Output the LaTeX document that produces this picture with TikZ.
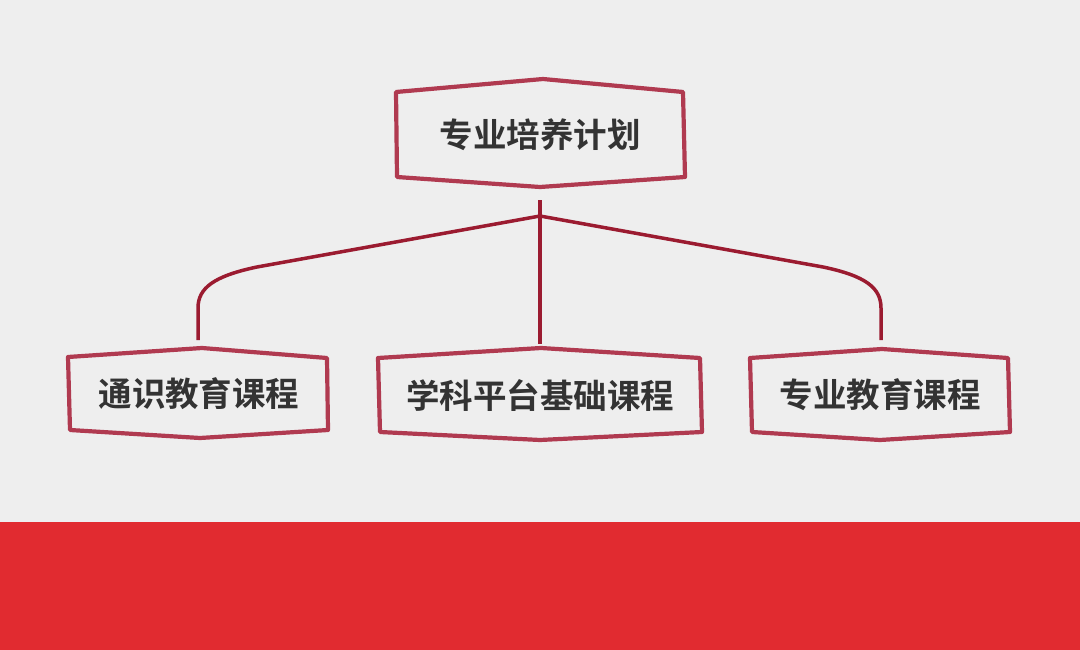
\documentclass[tikz,border=0pt]{standalone}
\usepackage{fontspec}
\newfontfamily\cjk{Noto Sans CJK SC}[BoldFont={Noto Sans CJK SC Bold}]
\usetikzlibrary{calc}
\definecolor{bgcol}{HTML}{EEEEEE}
\definecolor{band}{HTML}{E12B30}
\definecolor{boxline}{HTML}{B03A50}
\definecolor{conn}{HTML}{9B1B30}
\definecolor{txt}{HTML}{333333}
\tikzset{
  lbl/.style={draw=none, text=txt, font=\cjk\bfseries\fontsize{33.5}{40}\selectfont, inner sep=0pt},
  outline/.style={draw=boxline, line width=4.2pt, line join=round, line cap=round},
  link/.style={draw=conn, line width=3.5pt}
}
\begin{document}
\begin{tikzpicture}[x=1pt,y=-1pt]
\fill[bgcol] (0,0) rectangle (1080,650);
\fill[band] (0,522) rectangle (1080,650);
\useasboundingbox (0,0) rectangle (1080,650);

% text nodes
\node[lbl, minimum width=288pt, minimum height=86pt] (top) at (540,135) {专业培养计划};
\node[lbl, minimum width=258pt, minimum height=73pt] (left) at (199,394) {通识教育课程};
\node[lbl, minimum width=324pt, minimum height=74pt] (mid) at (540,395) {学科平台基础课程};
\node[lbl, minimum width=259pt, minimum height=74pt] (right) at (880,395) {专业教育课程};

% hand-drawn outlines
\draw[outline] (396,92) -- (543,79) -- (683,92) -- (685,177) -- (540,187) -- (397,177) -- cycle;
\draw[outline] (68,357) -- (202,348) -- (327,358) -- (328,430) -- (200,438) -- (70,430) -- cycle;
\draw[outline] (378,358) -- (541,348) -- (700,358) -- (702,432) -- (540,440) -- (380,432) -- cycle;
\draw[outline] (750,358) -- (882,349) -- (1008,358) -- (1010,432) -- (880,440) -- (752,432) -- cycle;

% connectors
\coordinate (j) at (540,216);
\draw[link] ([yshift=-22pt]top.south) -- ([yshift=14pt]mid.north);
\draw[link] (j) -- (257,267) .. controls (214,276) and (198,288) .. (198,308) -- (198,340);
\draw[link] (j) -- (823,267) .. controls (866,276) and (881,288) .. (881,308) -- (881,340);
\end{tikzpicture}
\end{document}
